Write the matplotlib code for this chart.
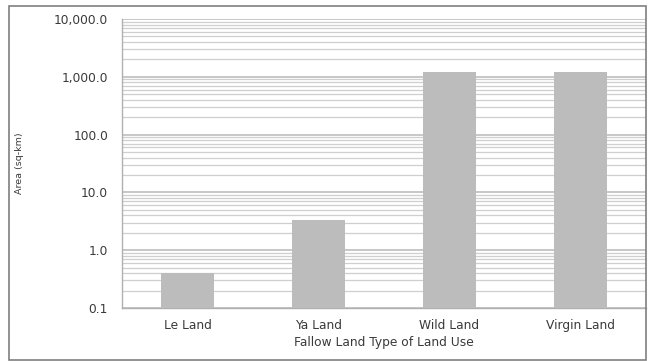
import matplotlib
matplotlib.use("Agg")
import matplotlib.pyplot as plt
from matplotlib.patches import Rectangle
from matplotlib.ticker import FixedLocator, FuncFormatter, LogLocator, NullFormatter

categories = ["Le Land", "Ya Land", "Wild Land", "Virgin Land"]
area_sqkm = [0.4, 3.3, 1210.0, 1230.0]
y_ticks = [0.1, 1.0, 10.0, 100.0, 1000.0, 10000.0]

W, H = 648, 361
fig = plt.figure(figsize=(W / 100, H / 100), dpi=100)
fig.patch.set_facecolor("white")

# outer frame around the chart
fig.patches.append(Rectangle((9 / W, 1 - 360 / H), 637 / W, 354 / H,
                             transform=fig.transFigure, fill=False,
                             edgecolor="#7f7f7f", linewidth=1.2))

ax = fig.add_axes([122 / W, 1 - 308 / H, 524 / W, 289 / H])
x = range(len(categories))
ax.bar(x, area_sqkm, width=0.4, color="#bcbcbc", zorder=3)

ax.set_yscale("log")
ax.set_ylim(0.1, 10000)
ax.set_xlim(-0.5, len(categories) - 0.5)
ax.yaxis.set_major_locator(FixedLocator(y_ticks))
ax.yaxis.set_major_formatter(FuncFormatter(lambda v, p: f"{v:,.1f}"))
ax.yaxis.set_minor_locator(LogLocator(base=10, subs=range(2, 10)))
ax.yaxis.set_minor_formatter(NullFormatter())
ax.grid(True, which="major", axis="y", color="#bdbdbd", linewidth=1.2, zorder=0)
ax.grid(True, which="minor", axis="y", color="#cfcfcf", linewidth=0.9, zorder=0)

ax.set_xticks(list(x))
ax.set_xticklabels(categories)
ax.tick_params(axis="both", which="both", length=0, labelsize=8.8, colors="#3a3a3a")
ax.tick_params(axis="x", pad=8)
ax.tick_params(axis="y", pad=10)

for side in ("top", "right"):
    ax.spines[side].set_visible(False)
for side in ("left", "bottom"):
    ax.spines[side].set_color("#b0b0b0")
    ax.spines[side].set_linewidth(1.0)

ax.set_xlabel("Fallow Land Type of Land Use", fontsize=8.8, color="#3a3a3a", labelpad=3)
fig.text(20 / W, 1 - 163 / H, "Area (sq-km)", rotation=90, fontsize=6.8,
         color="#3a3a3a", ha="center", va="center")

fig.savefig("out.png", dpi=100)
